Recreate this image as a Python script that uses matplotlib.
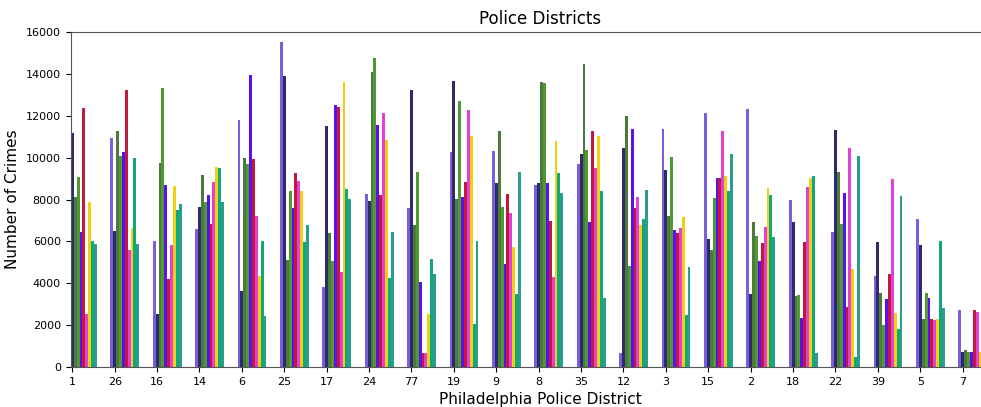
import numpy as np
import matplotlib.pyplot as plt

districts = ['1', '26', '16', '14', '6', '25', '17', '24', '77', '19', '9',
             '8', '35', '12', '3', '15', '2', '18', '22', '39', '5', '7']

# one list per coloured series, values per district in the order above
s_purple = [15400, 10940, 6020, 6590, 11810, 15520, 3800, 8260, 7580, 10270, 10320,
            8710, 9700, 670, 11370, 12130, 12340, 7980, 6450, 4350, 7080, 2710]
s_navy = [11190, 6500, 2520, 7630, 3650, 13900, 11500, 7910, 13210, 13660, 8790,
          8790, 10170, 10480, 9390, 6110, 3490, 6940, 11300, 5950, 5810, 700]
s_olive = [8100, 11260, 9730, 9150, 9980, 5130, 6400, 14100, 6780, 8010, 11260,
           13610, 14450, 11970, 7230, 5600, 6940, 3390, 9300, 3530, 2280, 800]
s_green = [9060, 10080, 13330, 7860, 9700, 8410, 5060, 14740, 9330, 12690, 7630,
           13560, 10360, 4820, 10030, 8060, 6260, 3440, 6830, 1990, 3530, 700]
s_violet = [6450, 10270, 8710, 8220, 13960, 7580, 12530, 11540, 4040, 8100, 4920,
            8790, 6940, 11370, 6530, 9040, 5060, 2320, 8310, 3250, 3300, 700]
s_crimson = [12390, 13230, 4200, 6850, 9930, 9250, 12420, 8220, 670, 8840, 8260,
             6990, 11260, 7580, 6380, 9040, 5910, 5950, 2870, 4430, 2280, 2710]
s_magenta = [2520, 5570, 5810, 8840, 7230, 8900, 4520, 12130, 670, 12290, 7340,
             4300, 9490, 8100, 6640, 11260, 6690, 8610, 10480, 9000, 2230, 2610]
s_gold = [7860, 6640, 8660, 9550, 4350, 8410, 13610, 10860, 2520, 11020, 5750,
          10810, 11020, 6780, 7180, 9140, 8550, 9040, 4680, 2560, 2280, 700]
s_green2 = [6020, 9980, 7480, 9500, 6020, 5950, 8500, 4230, 5160, 2040, 3490,
            9250, 8410, 7070, 2480, 8410, 8220, 9110, 490, 1820, 6020, 5430]
s_teal = [5860, 5860, 7790, 7860, 2440, 6780, 8020, 6450, 4430, 6020, 9300,
          8310, 3300, 8450, 4780, 10170, 6190, 670, 10080, 8170, 2820, 5000]

series = [s_purple, s_navy, s_olive, s_green, s_violet,
          s_crimson, s_magenta, s_gold, s_green2, s_teal]
colors = ['#7b5ede', '#2c2c6c', '#4c7a3c', '#4f9a30', '#5a10f0',
          '#c2183e', '#e23fd8', '#f2d00f', '#10a77a', '#2a9d8c']

fig = plt.figure(figsize=(9.81, 4.07), dpi=100)
# axes runs past the right edge of the picture, as in the original crop
ax = fig.add_axes([70.5 / 981, 40 / 407, (1010 - 70.5) / 981, 335 / 407])

x = np.arange(len(districts))
w = 0.068
for i, (vals, c) in enumerate(zip(series, colors)):
    ax.bar(x + (i - 1) * w, vals, width=w, color=c)

ax.set_xticks(x)
ax.set_xticklabels(districts, fontsize=8)
ax.tick_params(axis='y', labelsize=8)
ax.set_ylim(0, 16000)
ax.set_yticks(np.arange(0, 16001, 2000))
px = 42.4
ax.set_xlim(-1.8 / px, -1.8 / px + (1010 - 70.5) / px)
for s in ['top', 'left', 'bottom', 'right']:
    ax.spines[s].set_color('#555555')
    ax.spines[s].set_linewidth(0.8)

ax.set_title('Police Districts', fontsize=12)
ax.set_xlabel('Philadelphia Police District', fontsize=11)
ax.set_ylabel('Number of Crimes', fontsize=11)

fig.savefig('out.png', dpi=100)
